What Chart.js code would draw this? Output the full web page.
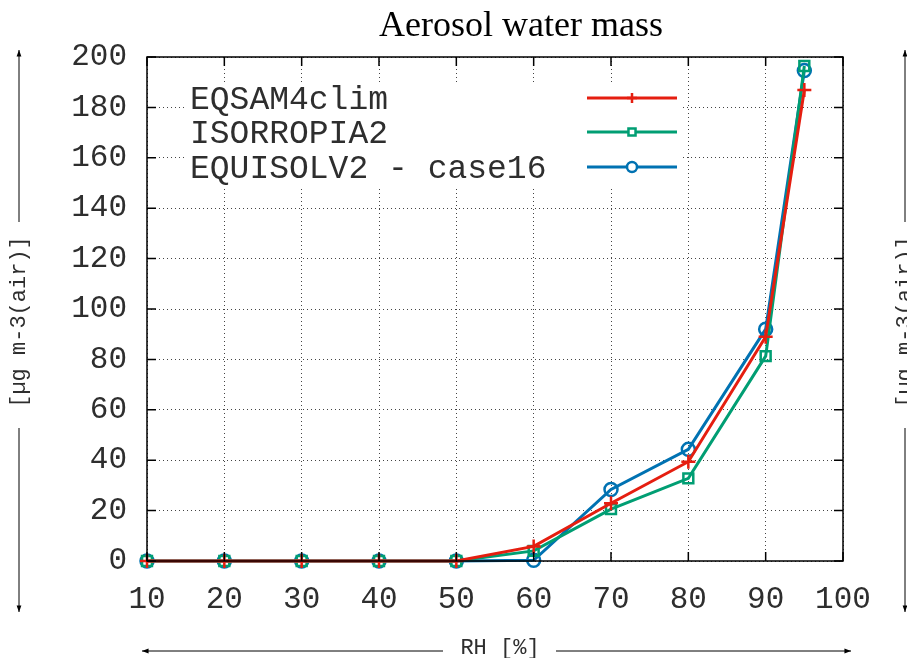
<!DOCTYPE html>
<html>
<head>
<meta charset="utf-8">
<title>Aerosol water mass</title>
<script src="https://cdn.jsdelivr.net/npm/chart.js@4.4.1/dist/chart.umd.min.js"></script>
<style>
  html, body { margin: 0; padding: 0; background: #fff; }
</style>
</head>
<body>
<canvas id="chart" width="907" height="658"></canvas>
<script>
// Relative humidity steps and water mass per model
const rh = [10, 20, 30, 40, 50, 60, 70, 80, 90, 95];
const eqsam = [0, 0, 0, 0, 0, 5.8, 22.9, 39.4, 89.0, 186.9];
const isorropia = [0, 0, 0, 0, 0, 4.0, 20.6, 32.8, 81.3, 196.4];
const equisolv = [0, 0, 0, 0, 0, 0.3, 28.4, 44.3, 92.0, 194.6];

const xTicks = [10, 20, 30, 40, 50, 60, 70, 80, 90, 100];
const yTicks = [0, 20, 40, 60, 80, 100, 120, 140, 160, 180, 200];

const MONO = "'Liberation Mono', 'DejaVu Sans Mono', monospace";
const SERIF = "'Liberation Serif', 'DejaVu Serif', serif";
const TEXT = '#2e2e2e';

const toPoints = (ys) => rh.map((x, i) => ({ x, y: ys[i] }));

function arrow(ctx, x1, y1, x2, y2) {
  const a = Math.atan2(y2 - y1, x2 - x1);
  const head = 7;
  ctx.beginPath();
  ctx.moveTo(x1, y1);
  ctx.lineTo(x2, y2);
  ctx.stroke();
  ctx.beginPath();
  ctx.moveTo(x2, y2);
  ctx.lineTo(x2 - head * Math.cos(a - 0.35), y2 - head * Math.sin(a - 0.35));
  ctx.lineTo(x2 - head * Math.cos(a + 0.35), y2 - head * Math.sin(a + 0.35));
  ctx.closePath();
  ctx.fill();
}

// y label with arrows above and below, gnuplot style
function yLabel(ctx, x) {
  ctx.save();
  ctx.strokeStyle = '#000';
  ctx.fillStyle = '#000';
  ctx.lineWidth = 1;
  arrow(ctx, x, 222, x, 50);
  arrow(ctx, x, 428, x, 612);
  ctx.translate(x, 322);
  ctx.rotate(-Math.PI / 2);
  ctx.font = '22px ' + MONO;
  ctx.fillStyle = TEXT;
  ctx.textAlign = 'center';
  ctx.textBaseline = 'middle';
  ctx.fillText('[µg m-3(air)]', 0, 0);
  ctx.restore();
}

const gnuplotFrame = {
  id: 'gnuplotFrame',
  beforeDatasetsDraw(chart) {
    // key sits on an opaque box over the grid
    const ctx = chart.ctx;
    ctx.save();
    ctx.fillStyle = '#fff';
    ctx.fillRect(186, 82, 497, 104);
    ctx.restore();
  },
  afterDatasetsDraw(chart) {
    const ctx = chart.ctx;
    const rows = [98, 132, 167];
    ctx.save();
    chart.data.datasets.forEach((ds, i) => {
      const y = rows[i];
      ctx.font = '33px ' + MONO;
      ctx.fillStyle = TEXT;
      ctx.textAlign = 'left';
      ctx.textBaseline = 'middle';
      ctx.fillText(ds.label, 190, y + 2);
      ctx.strokeStyle = ds.borderColor;
      ctx.lineWidth = 3;
      ctx.beginPath();
      ctx.moveTo(587, y);
      ctx.lineTo(677, y);
      ctx.stroke();
      ctx.lineWidth = 2.5;
      ctx.fillStyle = ds.pointStyle === 'cross' ? ds.borderColor : '#fff';
      Chart.helpers.drawPoint(ctx, { pointStyle: ds.pointStyle, radius: 5, borderWidth: 2.5 }, 632, y);
    });
    ctx.restore();
  },
  afterDraw(chart) {
    const ctx = chart.ctx;
    const { left, right, top, bottom } = chart.chartArea;
    const xs = chart.scales.x, ys = chart.scales.y;
    ctx.save();
    // frame with inward ticks on all four sides
    ctx.strokeStyle = '#000';
    ctx.lineWidth = 1.5;
    ctx.strokeRect(left, top, right - left, bottom - top);
    ctx.beginPath();
    xTicks.forEach(v => {
      const px = xs.getPixelForValue(v);
      ctx.moveTo(px, bottom); ctx.lineTo(px, bottom - 9);
      ctx.moveTo(px, top); ctx.lineTo(px, top + 9);
    });
    yTicks.forEach(v => {
      const py = ys.getPixelForValue(v);
      ctx.moveTo(left, py); ctx.lineTo(left + 9, py);
      ctx.moveTo(right, py); ctx.lineTo(right - 9, py);
    });
    ctx.stroke();

    // title
    ctx.font = '36px ' + SERIF;
    ctx.fillStyle = '#000';
    ctx.textAlign = 'center';
    ctx.textBaseline = 'alphabetic';
    ctx.fillText('Aerosol water mass', 521, 36);

    // axis labels
    yLabel(ctx, 19);
    yLabel(ctx, 905);
    ctx.strokeStyle = '#000';
    ctx.fillStyle = '#000';
    ctx.lineWidth = 1;
    arrow(ctx, 443, 651, 142, 651);
    arrow(ctx, 556, 651, 851, 651);
    ctx.font = '22px ' + MONO;
    ctx.fillStyle = TEXT;
    ctx.textAlign = 'center';
    ctx.textBaseline = 'middle';
    ctx.fillText('RH [%]', 500, 648);
    ctx.restore();
  }
};

new Chart(document.getElementById('chart'), {
  type: 'line',
  data: {
    datasets: [
      {
        label: 'EQSAM4clim',
        data: toPoints(eqsam),
        borderColor: '#e51e10',
        backgroundColor: '#e51e10',
        pointStyle: 'cross',
        pointRadius: 7
      },
      {
        label: 'ISORROPIA2',
        data: toPoints(isorropia),
        borderColor: '#009e73',
        backgroundColor: 'rgba(0,0,0,0)',
        pointStyle: 'rect',
        pointRadius: 7
      },
      {
        label: 'EQUISOLV2 - case16',
        data: toPoints(equisolv),
        borderColor: '#0072b2',
        backgroundColor: 'rgba(0,0,0,0)',
        pointStyle: 'circle',
        pointRadius: 6.5
      }
    ]
  },
  options: {
    responsive: false,
    devicePixelRatio: 1,
    animation: false,
    clip: 10,
    layout: { padding: { top: 57, right: 64, bottom: 0, left: 0 } },
    elements: {
      line: { borderWidth: 3, tension: 0 },
      point: { borderWidth: 2.5, hoverRadius: 7 }
    },
    plugins: {
      legend: { display: false },
      title: { display: false },
      tooltip: { enabled: false }
    },
    scales: {
      x: {
        type: 'linear',
        min: 10,
        max: 100,
        afterBuildTicks: (s) => { s.ticks = xTicks.map(v => ({ value: v })); },
        afterFit: (s) => { s.height = 97; },
        ticks: {
          color: TEXT,
          padding: 20,
          font: { family: MONO, size: 31 }
        },
        grid: { color: '#444', lineWidth: 1, drawTicks: false },
        border: { display: false, dash: [1, 3] }
      },
      y: {
        min: 0,
        max: 200,
        afterBuildTicks: (s) => { s.ticks = yTicks.map(v => ({ value: v })); },
        afterFit: (s) => { s.width = 147; },
        ticks: {
          color: TEXT,
          padding: 20,
          font: { family: MONO, size: 31 }
        },
        grid: { color: '#444', lineWidth: 1, drawTicks: false },
        border: { display: false, dash: [1, 3] }
      }
    }
  },
  plugins: [gnuplotFrame]
});
</script>
</body>
</html>
